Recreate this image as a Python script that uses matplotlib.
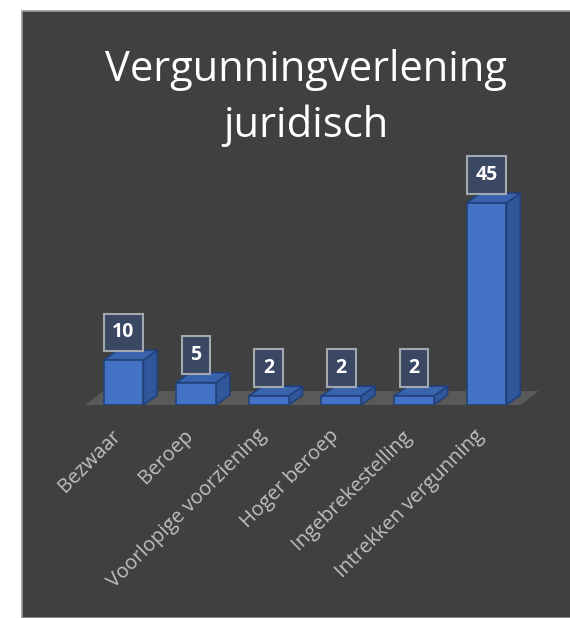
import matplotlib.pyplot as plt
import matplotlib.patches as patches

categories = ["Bezwaar", "Beroep", "Voorlopige voorziening", "Hoger beroep",
              "Ingebrekestelling", "Intrekken vergunning"]
values = [10, 5, 2, 2, 2, 45]
title = "Vergunningverlening\njuridisch"

BG = "#404040"
FRONT = "#4472c4"
SIDE = "#30569b"
TOP = "#3a63ad"
EDGE = "#22417a"


def draw_chart():
    fig = plt.figure(figsize=(5.7, 6.18), dpi=100)
    fig.patch.set_facecolor("white")
    # dark panel
    fig.patches.append(patches.Rectangle((22 / 570, 0), 1, 1 - 11 / 618,
                                         transform=fig.transFigure,
                                         facecolor=BG, edgecolor="#9a9a9a",
                                         linewidth=1.2, zorder=-5))

    ax = fig.add_axes([85 / 570, (618 - 405) / 618, 455 / 570, 255 / 618])
    ax.set_facecolor("none")
    n = len(categories)
    ax.set_xlim(-0.53, n - 1 + 0.737)
    ax.set_ylim(0, 255 / 4.49)

    w = 0.55
    dx, dy = 0.19, 2.2

    # floor
    fx0, fx1 = -0.53, n - 1 + 0.47
    ax.add_patch(patches.Polygon([(fx0, 0), (fx1, 0), (fx1 + 0.25, 3.1), (fx0 + 0.25, 3.1)],
                                 closed=True, facecolor="#595959", edgecolor="none", zorder=1))

    bars = ax.bar(range(n), values, width=w, color=FRONT, edgecolor=EDGE,
                  linewidth=1.2, zorder=3)
    for rect, v in zip(bars, values):
        x0 = rect.get_x()
        x1 = x0 + rect.get_width()
        side = [(x1, 0), (x1 + dx, dy), (x1 + dx, v + dy), (x1, v)]
        top = [(x0, v), (x1, v), (x1 + dx, v + dy), (x0 + dx, v + dy)]
        ax.add_patch(patches.Polygon(side, closed=True, facecolor=SIDE,
                                     edgecolor=EDGE, linewidth=1.2, zorder=2))
        ax.add_patch(patches.Polygon(top, closed=True, facecolor=TOP,
                                     edgecolor=EDGE, linewidth=1.2, zorder=2))
        ax.annotate(str(v), (x0 + w / 2, v), xytext=(0, 20),
                    textcoords="offset points", ha="center", va="center",
                    color="white", fontsize=14, fontweight="bold",
                    family="Open Sans", zorder=5,
                    bbox=dict(boxstyle="square,pad=0.45", facecolor="#3b4863",
                              edgecolor="#a3a7ae", linewidth=1.5))

    # category labels, rotated, ending under each bar
    for i, cat in enumerate(categories):
        ax.annotate(cat, (i, 0), xytext=(-9, -15), textcoords="offset points",
                    rotation=45, ha="right", va="top", rotation_mode="anchor",
                    color="#bfbfbf", fontsize=14.5, family="Open Sans",
                    annotation_clip=False)

    ax.set_xticks([])
    ax.set_yticks([])
    for s in ax.spines.values():
        s.set_visible(False)

    fig.text(306 / 570, 1 - 98 / 618, title, ha="center", va="center",
             color="white", fontsize=30, family="Open Sans", linespacing=1.4)

    fig.savefig("out.png", dpi=100, facecolor=fig.get_facecolor())


if __name__ == "__main__":
    draw_chart()
